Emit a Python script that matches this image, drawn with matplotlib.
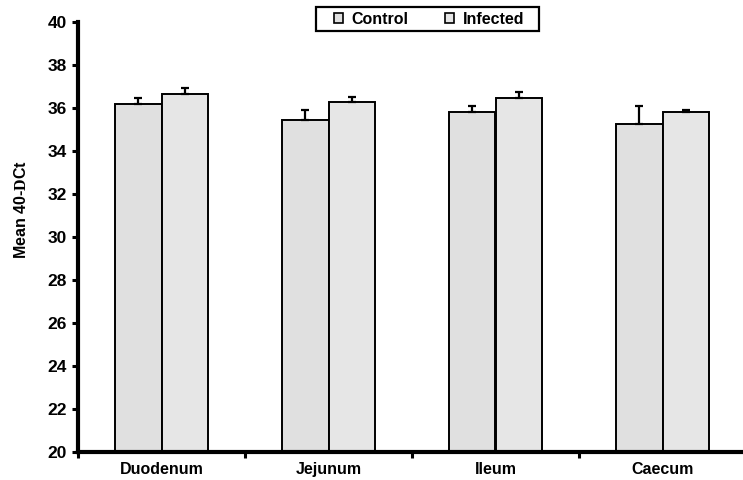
import matplotlib
matplotlib.use("Agg")
import matplotlib.pyplot as plt
import numpy as np
from matplotlib.patches import Patch, Rectangle

plt.rcParams['font.family'] = ['Liberation Sans', 'DejaVu Sans']
plt.rcParams['font.weight'] = 'bold'
plt.rcParams['mathtext.fontset'] = 'custom'
plt.rcParams['mathtext.rm'] = 'Liberation Serif'

categories = ["Duodenum", "Jejunum", "Ileum", "Caecum"]
control_mean = [36.15, 35.40, 35.78, 35.22]
control_err = [0.31, 0.50, 0.30, 0.86]
infected_mean = [36.61, 36.24, 36.43, 35.78]
infected_err = [0.31, 0.23, 0.30, 0.12]
series_labels = ["Control", "Infected"]
yticks = list(range(20, 41, 2))

W, H = 743, 481
fig = plt.figure(figsize=(W / 100, H / 100), dpi=100)
ax = fig.add_axes([78 / W, 1 - 452.5 / H, 668 / W, 430 / H])

x = np.arange(len(categories))
w = 0.28
ekw = dict(elinewidth=1.6, capthick=1.6, ecolor='black')
ax.bar(x - w / 2, control_mean, width=w, color='#e0e0e0', edgecolor='black',
       linewidth=1.4, yerr=[np.zeros(4), control_err], capsize=2.6,
       error_kw=ekw, zorder=2)
ax.bar(x + w / 2, infected_mean, width=w, color='#e6e6e6', edgecolor='black',
       linewidth=1.4, yerr=[np.zeros(4), infected_err], capsize=2.6,
       error_kw=ekw, zorder=2)

ax.set_xlim(-0.5, 3.5)
ax.set_ylim(20, 40)
ax.set_yticks(yticks)
ax.set_yticklabels([str(t) for t in yticks], fontsize=12.5, fontweight='bold')
ax.set_xticks(x)
ax.set_xticklabels(categories, fontsize=11.5, fontweight='bold')
ax.set_xticks(np.arange(-0.5, 3.6, 1.0), minor=True)
ax.tick_params(axis='x', which='major', length=0, pad=7)
ax.tick_params(axis='x', which='minor', length=4, width=2.2, direction='out')
ax.tick_params(axis='y', which='major', length=4, width=2.2, direction='out', pad=4)

for s in ['top', 'right']:
    ax.spines[s].set_visible(False)
for s in ['left', 'bottom']:
    ax.spines[s].set_linewidth(3)
    ax.spines[s].set_zorder(3)

ax.set_ylabel(r"Mean 40-$\mathrm{D}$Ct", fontsize=11.5, fontweight='bold')
ax.yaxis.set_label_coords(-0.073, 0.565)

# legend content without frame, boxed by a separate rectangle
handles = [Patch(facecolor='#e0e0e0', edgecolor='black', linewidth=1.2),
           Patch(facecolor='#e6e6e6', edgecolor='black', linewidth=1.2)]
leg = fig.legend(handles, series_labels, loc='center',
                 bbox_to_anchor=(429 / W, 1 - 20 / H), ncol=2,
                 frameon=False, fontsize=11.5,
                 handlelength=0.55, handleheight=0.55, handletextpad=0.55,
                 columnspacing=2.3, borderpad=0.0, borderaxespad=0)
for t in leg.get_texts():
    t.set_fontweight('bold')
fig.patches.append(Rectangle((316 / W, 1 - 32 / H), 223 / W, 24 / H,
                             transform=fig.transFigure, fill=False,
                             edgecolor='black', linewidth=1.6))

fig.savefig("out.png", dpi=100)
